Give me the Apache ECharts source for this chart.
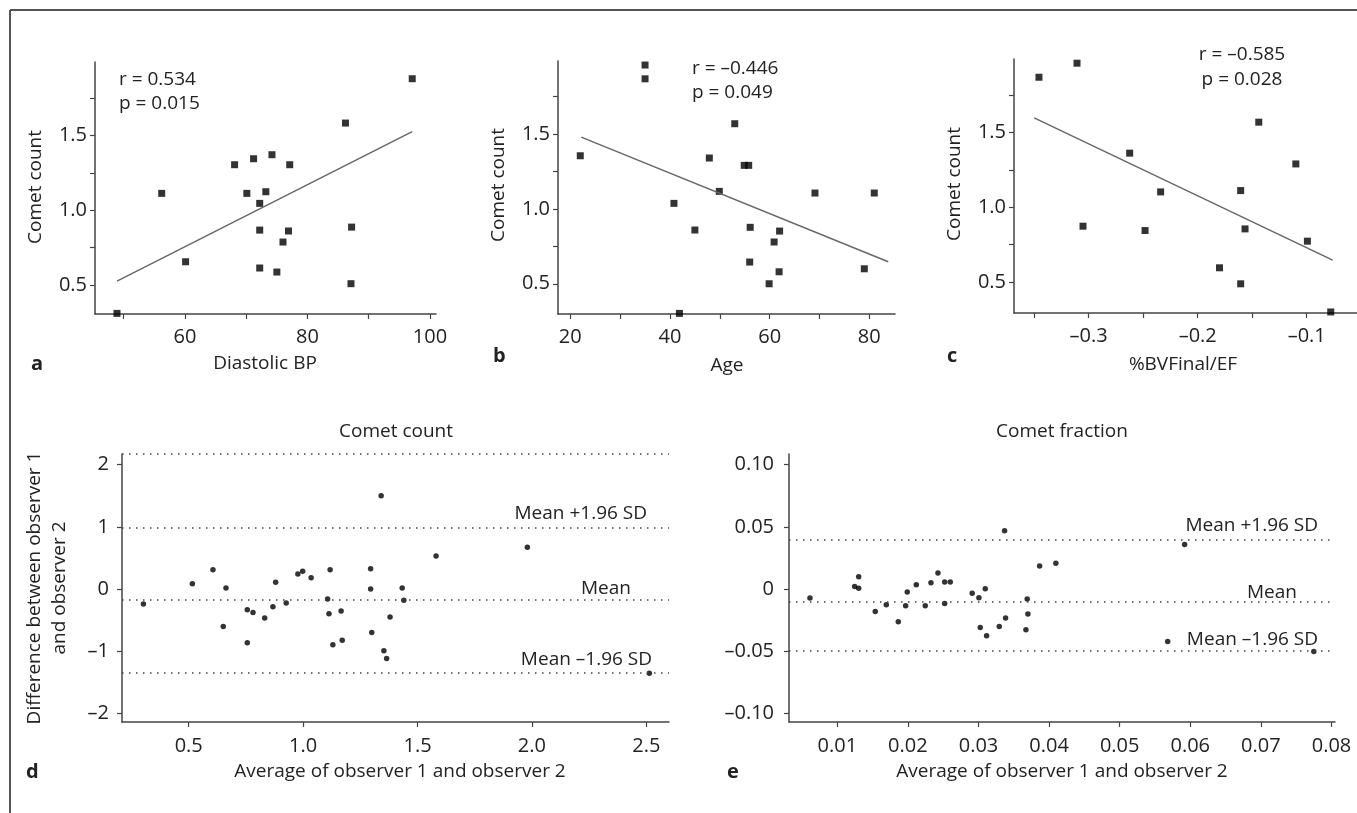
<!DOCTYPE html>
<html>
<head>
<meta charset="utf-8">
<script src="https://cdn.jsdelivr.net/npm/echarts@6/dist/echarts.min.js"></script>
<style>
  html, body { margin: 0; padding: 0; background: #fff; }
  #chart { width: 1357px; height: 813px; }
</style>
</head>
<body>
<div id="chart"></div>
<script>
// panel a - diastolic BP vs comet count
const aBP = [48.9, 56.2, 60.1, 68.1, 71.2, 74.2, 77.1, 70.1, 73.2, 72.2, 72.2, 76.9, 76.0, 72.2, 75.0, 86.2, 87.2, 87.1, 97.1]
const aComet = [0.31, 1.114, 0.656, 1.306, 1.346, 1.373, 1.306, 1.114, 1.125, 1.047, 0.868, 0.862, 0.788, 0.614, 0.587, 1.585, 0.888, 0.509, 1.882]
const aFit = [[48.9, 0.527], [97.1, 1.527]]

// panel b - age vs comet count
const bAge = [22, 35, 35, 40.8, 45, 47.9, 49.9, 53, 54.9, 55.8, 56.1, 56, 41.9, 62, 60.9, 61.9, 59.9, 69.1, 81, 79]
const bComet = [1.355, 1.961, 1.869, 1.037, 0.859, 1.340, 1.117, 1.569, 1.291, 1.291, 0.877, 0.645, 0.302, 0.852, 0.779, 0.580, 0.500, 1.106, 1.106, 0.600]
const bFit = [[22.2, 1.48], [83.8, 0.647]]

// panel c - %BVFinal/EF vs comet count
const cBV = [-0.3456, -0.3107, -0.3052, -0.2624, -0.2483, -0.234, -0.180, -0.1606, -0.1606, -0.1566, -0.144, -0.110, -0.0994, -0.078]
const cComet = [1.868, 1.962, 0.873, 1.361, 0.844, 1.102, 0.595, 1.111, 0.488, 0.855, 1.568, 1.289, 0.773, 0.300]
const cFit = [[-0.350, 1.597], [-0.0762, 0.646]]

// panel d - Bland-Altman comet count
const dAvg = [0.302, 0.516, 0.606, 0.663, 0.651, 0.756, 0.781, 0.756, 0.832, 0.868, 0.880, 0.926, 0.977, 0.998, 1.035, 1.118, 1.107, 1.113, 1.166, 1.130, 1.171,
    1.341, 1.295, 1.295, 1.300, 1.380, 1.353, 1.365, 1.433, 1.440, 1.581, 1.980, 2.513]
const dDiff = [-0.242, 0.085, 0.311, 0.016, -0.603, -0.334, -0.377, -0.866, -0.468, -0.285, 0.107, -0.226, 0.242, 0.284, 0.182, 0.311, -0.161, -0.398, -0.355, -0.898, -0.823,
    1.5, 0.327, 0.0, -0.70, -0.452, -0.995, -1.119, 0.016, -0.183, 0.532, 0.671, -1.355]
const dLimits = [0.978, -0.183, -1.35]   // +1.96 SD, mean, -1.96 SD

// panel e - Bland-Altman comet fraction
const eAvg = [0.00613, 0.01246, 0.01303, 0.01303, 0.01538, 0.01694, 0.01864, 0.01968, 0.01991, 0.02119, 0.02246, 0.02327, 0.02426, 0.02521, 0.02600, 0.02521,
    0.02911, 0.03006, 0.03096, 0.03025, 0.03115, 0.03294, 0.03384, 0.0337, 0.0369, 0.0370, 0.03672, 0.03866, 0.04096, 0.0592, 0.0568, 0.0775]
const eDiff = [-0.0073, 0.0021, 0.0099, 0.0005, -0.0181, -0.0127, -0.0264, -0.0135, -0.0024, 0.0035, -0.0135, 0.0051, 0.0129, 0.0056, 0.0056, -0.0116,
    -0.0035, -0.0070, 0.0002, -0.0309, -0.0377, -0.0301, -0.0234, 0.0468, -0.0081, -0.0202, -0.0328, 0.0185, 0.0207, 0.0357, -0.0422, -0.0503]
const eLimits = [0.0357, -0.0068, -0.0503]

// tick values
const ticksCometY = [0.5, 0.75, 1.0, 1.25, 1.5, 1.75]
const labelsCometY = [0.5, 1.0, 1.5]
const ticksA = [50, 60, 70, 80, 90, 100]
const labelsA = [60, 80, 100]
const ticksB = [20, 30, 40, 50, 60, 70, 80]
const labelsB = [20, 40, 60, 80]
const ticksC = [-0.35, -0.3, -0.25, -0.2, -0.15, -0.1]
const labelsC = [-0.3, -0.2, -0.1]
const ticksDX = [0.5, 1.0, 1.5, 2.0, 2.5]
const ticksDY = [-2, -1, 0, 1, 2]
const ticksEX = [0.01, 0.02, 0.03, 0.04, 0.05, 0.06, 0.07, 0.08]
const ticksEY = [-0.10, -0.05, 0, 0.05, 0.10]

const FONT = "'Open Sans', 'Noto Sans', sans-serif"
const INK = '#222'
const AXIS = '#444'

const minus = s => s.replace('-', '\u2013')

function axis(gi, min, max, ticks, labels, fmt, margin) {
    return {
        type: 'value', gridIndex: gi, min: min, max: max,
        axisLine: { show: true, onZero: false, lineStyle: { color: AXIS, width: 1.5 } },
        axisTick: { show: true, length: 5, customValues: ticks, lineStyle: { color: AXIS, width: 1.2 } },
        axisLabel: { customValues: labels, formatter: fmt, fontSize: 20, color: INK, fontFamily: FONT, margin: margin },
        splitLine: { show: false }
    }
}

function zip(xs, ys) {
    return xs.map((x, i) => [x, ys[i]])
}

function scatter(gi, xs, ys, symbol, size) {
    return {
        type: 'scatter', xAxisIndex: gi, yAxisIndex: gi, data: zip(xs, ys),
        symbol: symbol, symbolSize: size, itemStyle: { color: '#000' }, silent: true
    }
}

function fitLine(gi, pts) {
    return {
        type: 'line', xAxisIndex: gi, yAxisIndex: gi, data: pts, symbol: 'none',
        lineStyle: { color: '#666', width: 1.4 }, silent: true
    }
}

function limitLines(top, limits, offs) {
    const names = ['Mean +1.96 SD', 'Mean', 'Mean \u20131.96 SD']
    const data = [{ yAxis: top, label: { show: false } }]
    limits.forEach((v, i) => {
        data.push({
            yAxis: v,
            label: { show: true, position: 'insideEndTop', formatter: names[i], fontSize: 19, fontFamily: FONT, color: INK, offset: offs[i] }
        })
    })
    return {
        silent: true, symbol: 'none', animation: false,
        lineStyle: { type: [1.5, 5.5], color: AXIS, width: 1.5 },
        data: data
    }
}

function txt(x, y, text, opts) {
    opts = opts || {}
    return {
        type: 'text', x: x, y: y, rotation: opts.rot || 0,
        style: {
            text: text, fill: INK, fontSize: opts.size || 19, fontFamily: FONT, fontWeight: opts.bold ? 'bold' : 'normal',
            align: opts.align || 'center', verticalAlign: 'middle',
            textAlign: opts.align || 'center', textVerticalAlign: 'middle'
        }
    }
}

let myChart = echarts.init(document.getElementById('chart'))

let dSeries = scatter(3, dAvg, dDiff, 'circle', 5.5)
dSeries.markLine = limitLines(2.172, dLimits, [[-17, 0], [-33, 3], [-12, 1]])
let eSeries = scatter(4, eAvg, eDiff, 'circle', 5.5)
eSeries.markLine = limitLines(0.1086, eLimits, [[-12, 1], [-33, 6], [-12, 3]])

let option = {
    animation: false,
    backgroundColor: '#fff',
    grid: [
        { left: 95, top: 62, width: 341, height: 252 },
        { left: 558, top: 61, width: 337, height: 253 },
        { left: 1014, top: 59, width: 343, height: 254 },
        { left: 122, top: 454, width: 547, height: 268 },
        { left: 789, top: 454, width: 546, height: 268 }
    ],
    xAxis: [
        axis(0, 45.31, 100.98, ticksA, labelsA, v => String(v), 13),
        axis(1, 17.53, 85.16, ticksB, labelsB, v => String(v), 13),
        axis(2, -0.3685, -0.0539, ticksC, labelsC, v => minus(v.toFixed(1)), 13),
        axis(3, 0.2085, 2.599, ticksDX, ticksDX, v => v.toFixed(1), 14),
        axis(4, 0.00316, 0.0805, ticksEX, ticksEX, v => v.toFixed(2), 14)
    ],
    yAxis: [
        axis(0, 0.306, 1.994, ticksCometY, labelsCometY, v => v.toFixed(1), 8),
        axis(1, 0.298, 1.988, ticksCometY, labelsCometY, v => v.toFixed(1), 8),
        axis(2, 0.293, 1.99, ticksCometY, labelsCometY, v => v.toFixed(1), 8),
        axis(3, -2.14, 2.172, ticksDY, ticksDY, v => minus(String(v)), 13),
        axis(4, -0.107, 0.1086, ticksEY, ticksEY, v => v === 0 ? '0' : minus(v.toFixed(2)), 15)
    ],
    series: [
        fitLine(0, aFit), scatter(0, aBP, aComet, 'rect', 7),
        fitLine(1, bFit), scatter(1, bAge, bComet, 'rect', 7),
        fitLine(2, cFit), scatter(2, cBV, cComet, 'rect', 7),
        dSeries, eSeries
    ],
    graphic: [
        // frame
        { type: 'line', shape: { x1: 10, y1: 10, x2: 1357, y2: 10 }, style: { stroke: '#555', lineWidth: 2 } },
        { type: 'line', shape: { x1: 10, y1: 10, x2: 10, y2: 813 }, style: { stroke: '#555', lineWidth: 2 } },
        // panel a
        txt(119, 80, 'r = 0.534', { align: 'left' }),
        txt(119, 104, 'p = 0.015', { align: 'left' }),
        txt(265, 364, 'Diastolic BP'),
        txt(36, 187, 'Comet count', { rot: Math.PI / 2 }),
        txt(31, 364, 'a', { align: 'left', bold: true, size: 20 }),
        // panel b
        txt(692, 69, 'r = \u20130.446', { align: 'left' }),
        txt(692, 93, 'p = 0.049', { align: 'left' }),
        txt(727, 366, 'Age'),
        txt(499, 185, 'Comet count', { rot: Math.PI / 2 }),
        txt(493, 356, 'b', { align: 'left', bold: true, size: 20 }),
        // panel c
        txt(1242, 55, 'r = \u20130.585'),
        txt(1242, 80, 'p = 0.028'),
        txt(1183, 365, '%BVFinal/EF'),
        txt(955, 184, 'Comet count', { rot: Math.PI / 2 }),
        txt(947, 356, 'c', { align: 'left', bold: true, size: 20 }),
        // panel d
        txt(396, 432, 'Comet count'),
        txt(400, 772, 'Average of observer 1 and observer 2'),
        txt(35, 588, 'Difference between observer 1', { rot: Math.PI / 2 }),
        txt(60, 588, 'and observer 2', { rot: Math.PI / 2 }),
        txt(26, 772, 'd', { align: 'left', bold: true, size: 20 }),
        // panel e
        txt(1062, 432, 'Comet fraction'),
        txt(1062, 772, 'Average of observer 1 and observer 2'),
        txt(727, 772, 'e', { align: 'left', bold: true, size: 20 })
    ]
}

myChart.setOption(option)
</script>
</body>
</html>
